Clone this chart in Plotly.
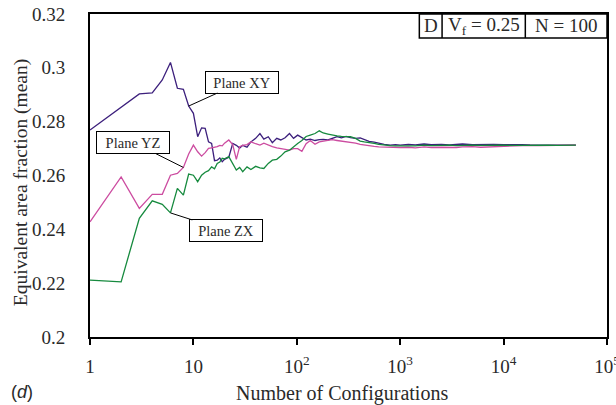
import math
import plotly.graph_objects as go

# Number of configurations at which the running mean was sampled
configs = [1, 2, 3, 4, 5, 6, 7, 8, 9, 10, 11, 12, 13, 14, 15, 16, 17, 18, 19, 20,
           22, 24, 26, 28, 30, 33, 36, 40, 44, 48, 53, 58, 64, 70, 77, 85, 93, 102,
           112, 123, 135, 150, 165, 180, 200, 220, 245, 270, 300, 330, 370, 410, 450,
           500, 560, 620, 700, 800, 900, 1000, 1200, 1400, 1700, 2000, 2500, 3000,
           3500, 4000, 5000, 6000, 7000, 8000, 10000, 12000, 15000, 18000, 22000,
           27000, 33000, 40000, 50000]

plane_xy = [0.2769, 0.2852, 0.2903, 0.2907, 0.2955, 0.3020, 0.2924, 0.2920, 0.2858, 0.2831,
            0.2744, 0.2777, 0.2775, 0.2725, 0.2719, 0.2655, 0.2657, 0.2665, 0.2651, 0.2660,
            0.2668, 0.2719, 0.2712, 0.2702, 0.2712, 0.2705, 0.2725, 0.2738, 0.2756, 0.2735,
            0.2744, 0.2722, 0.2738, 0.2732, 0.2740, 0.2756, 0.2738, 0.2750, 0.2742, 0.2732,
            0.2735, 0.2730, 0.2733, 0.2734, 0.2732, 0.2738, 0.2744, 0.2740, 0.2745, 0.2741,
            0.2738, 0.2740, 0.2733, 0.2727, 0.2724, 0.2720, 0.2716, 0.2713, 0.2715, 0.2713,
            0.2716, 0.2714, 0.2717, 0.2715, 0.2716, 0.2714, 0.2716, 0.2717, 0.2715, 0.2716,
            0.2717, 0.2716, 0.2715, 0.2716, 0.2715, 0.2714, 0.2714, 0.2713, 0.2714, 0.2713,
            0.2713]

plane_yz = [0.2428, 0.2595, 0.2478, 0.2530, 0.2530, 0.2601, 0.2608, 0.2630, 0.2680, 0.2713,
            0.2688, 0.2672, 0.2685, 0.2701, 0.2703, 0.2705, 0.2707, 0.2712, 0.2710, 0.2720,
            0.2732, 0.2715, 0.2660, 0.2707, 0.2712, 0.2715, 0.2725, 0.2718, 0.2713, 0.2720,
            0.2712, 0.2707, 0.2703, 0.2701, 0.2698, 0.2694, 0.2700, 0.2700, 0.2690, 0.2718,
            0.2730, 0.2716, 0.2725, 0.2728, 0.2732, 0.2733, 0.2730, 0.2728, 0.2726, 0.2722,
            0.2720, 0.2716, 0.2713, 0.2710, 0.2708, 0.2706, 0.2705, 0.2704, 0.2703, 0.2704,
            0.2705, 0.2703, 0.2706, 0.2704, 0.2705, 0.2703, 0.2704, 0.2706, 0.2707, 0.2705,
            0.2706, 0.2708, 0.2709, 0.2710, 0.2711, 0.2712, 0.2711, 0.2712, 0.2712, 0.2713,
            0.2713]

plane_zx = [0.2211, 0.2205, 0.2441, 0.2506, 0.2493, 0.2461, 0.2552, 0.2527, 0.2605, 0.2601,
            0.2577, 0.2601, 0.2612, 0.2618, 0.2632, 0.2625, 0.2645, 0.2650, 0.2664, 0.2662,
            0.2670, 0.2642, 0.2620, 0.2630, 0.2614, 0.2632, 0.2622, 0.2634, 0.2628, 0.2626,
            0.2645, 0.2657, 0.2660, 0.2672, 0.2688, 0.2694, 0.2707, 0.2719, 0.2730, 0.2745,
            0.2750, 0.2756, 0.2766, 0.2758, 0.2754, 0.2750, 0.2747, 0.2745, 0.2744, 0.2744,
            0.2738, 0.2728, 0.2725, 0.2721, 0.2719, 0.2716, 0.2713, 0.2711, 0.2710, 0.2710,
            0.2712, 0.2710, 0.2713, 0.2711, 0.2712, 0.2713, 0.2711, 0.2712, 0.2713, 0.2712,
            0.2713, 0.2712, 0.2713, 0.2712, 0.2713, 0.2712, 0.2713, 0.2713, 0.2712, 0.2713,
            0.2713]

x_tick_vals = [1, 10, 100, 1000, 10000, 100000]
x_tick_text = ["1", "10", "10<sup>2</sup>", "10<sup>3</sup>", "10<sup>4</sup>", "10<sup>5</sup>"]
y_tick_vals = [0.2, 0.22, 0.24, 0.26, 0.28, 0.3, 0.32]
y_tick_text = ["0.2", "0.22", "0.24", "0.26", "0.28", "0.3", "0.32"]

SERIF = "Liberation Serif, Times New Roman, serif"
TXT = "#2a2a2a"
COL_XY = "#3c1f7c"
COL_YZ = "#cc4ca0"
COL_ZX = "#168a3e"

fig = go.Figure()
for name, vals, col in [("Plane XY", plane_xy, COL_XY),
                        ("Plane YZ", plane_yz, COL_YZ),
                        ("Plane ZX", plane_zx, COL_ZX)]:
    fig.add_trace(go.Scatter(x=configs, y=vals, mode="lines", name=name,
                             line=dict(color=col, width=1.3)))

# Callout labels with leader lines to each curve
callouts = [("Plane XY", plane_xy, 9, 53, -24),
            ("Plane YZ", plane_yz, 8, -50, -25),
            ("Plane ZX", plane_zx, 6, 56, 18)]
for text, vals, n, ax, ay in callouts:
    i = configs.index(n)
    fig.add_annotation(x=math.log10(n), y=vals[i], xref="x", yref="y",
                       text=text, showarrow=True, arrowhead=0, arrowwidth=1,
                       arrowcolor="black", ax=ax, ay=ay, standoff=0,
                       width=66, height=15,
                       font=dict(family=SERIF, size=14.5, color=TXT),
                       bgcolor="white", bordercolor="black", borderwidth=1,
                       borderpad=3)

# Parameter box in the top-right corner
box_x = [0.637, 0.681, 0.842, 1.0]
box_y0, box_y1 = 0.926, 1.0
fig.add_shape(type="rect", xref="paper", yref="paper", x0=box_x[0], x1=box_x[-1],
              y0=box_y0, y1=box_y1, line=dict(color="black", width=1.5),
              fillcolor="white", layer="above")
for xv in box_x[1:3]:
    fig.add_shape(type="line", xref="paper", yref="paper", x0=xv, x1=xv,
                  y0=box_y0, y1=box_y1, line=dict(color="black", width=1.5))
for label, x0, x1 in [("D", box_x[0], box_x[1]),
                      ("V<sub>f</sub> = 0.25", box_x[1], box_x[2]),
                      ("N = 100", box_x[2], box_x[3])]:
    fig.add_annotation(x=(x0 + x1) / 2, y=(box_y0 + box_y1) / 2, xref="paper",
                       yref="paper", xanchor="center", yanchor="middle",
                       text=label, showarrow=False,
                       font=dict(family=SERIF, size=19, color=TXT))

# Axis titles and panel letter
fig.add_annotation(x=0.487, y=-0.176, xref="paper", yref="paper",
                   text="Number of Configurations", showarrow=False,
                   xanchor="center", yanchor="middle",
                   font=dict(family=SERIF, size=20, color=TXT))
fig.add_annotation(x=-0.133, y=0.477, xref="paper", yref="paper",
                   text="Equivalent area fraction (mean)", showarrow=False,
                   textangle=-90, xanchor="center", yanchor="middle",
                   font=dict(family=SERIF, size=19.5, color=TXT))
fig.add_annotation(x=-0.157, y=-0.17, xref="paper", yref="paper", text="(<i>d</i>)",
                   showarrow=False, xanchor="left", yanchor="middle",
                   font=dict(family="Liberation Sans, Arial, sans-serif", size=18, color=TXT))

fig.update_layout(
    width=616, height=405,
    margin=dict(l=90, r=9, t=14, b=68),
    paper_bgcolor="white", plot_bgcolor="white",
    showlegend=False,
    font=dict(family=SERIF, size=16, color=TXT),
)
fig.update_xaxes(type="log", range=[0, 5], tickvals=x_tick_vals, ticktext=x_tick_text,
                 automargin=False,
                 showgrid=False, zeroline=False, showline=True, linecolor="black",
                 linewidth=2, mirror=True, ticks="outside", ticklen=6, tickwidth=1.5,
                 tickcolor="black", ticklabeloverflow="allow", ticklabelstandoff=5,
                 tickfont=dict(family=SERIF, size=19, color=TXT))
# Primary y axis carries the labels (pushed away by clear, long ticks)
fig.update_layout(
    yaxis=dict(range=[0.2, 0.32], tickvals=y_tick_vals, ticktext=y_tick_text,
               automargin=False, showgrid=False, zeroline=False, showline=True,
               linecolor="black", linewidth=2, mirror=True, ticks="outside",
               ticklen=19, tickwidth=1, tickcolor="rgba(0,0,0,0)",
               tickfont=dict(family=SERIF, size=19, color=TXT)),
    # Overlay axis draws the short visible tick marks
    yaxis2=dict(range=[0.2, 0.32], tickvals=y_tick_vals, overlaying="y", side="left",
                anchor="x", automargin=False, showgrid=False, zeroline=False,
                showline=False, showticklabels=False, ticks="outside", ticklen=7,
                tickwidth=1.5, tickcolor="black"),
)

fig.write_html("out.html")
